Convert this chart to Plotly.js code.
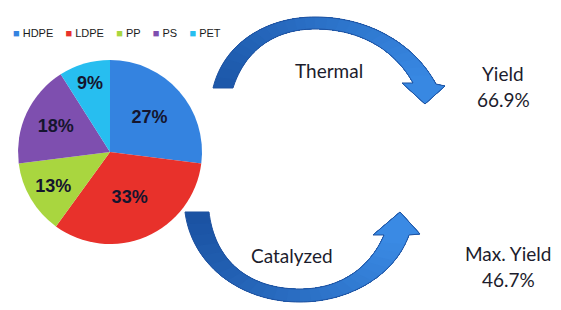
<!DOCTYPE html>
<html><head><meta charset="utf-8">
<script src="https://cdn.plot.ly/plotly-3.0.1.min.js"></script>
<style>html,body{margin:0;padding:0;background:#fff}#chart{width:561px;height:310px}</style>
</head><body><div id="chart"></div>
<script>
// ---- data ----
const categories = ['HDPE', 'LDPE', 'PP', 'PS', 'PET'];
const shares = [27, 33, 13, 18, 9];
const sliceColors = ['#3483E0', '#E8312B', '#A9D63F', '#7E4FAF', '#27BEF0'];
const processes = ['Thermal', 'Catalyzed'];
const yieldLabels = ['Yield', 'Max. Yield'];
const yieldValues = [66.9, 46.7];

// ---- helpers (pixel -> paper) ----
const W = 561, H = 310;
const px = x => x / W;
const py = y => 1 - y / H;
const ptStr = p => px(p[0]).toFixed(5) + ',' + py(p[1]).toFixed(5);

function bez(s, t) {
  const m = 1 - t;
  return [0, 1].map(k => m*m*m*s[0][k] + 3*m*m*t*s[1][k] + 3*m*t*t*s[2][k] + t*t*t*s[3][k]);
}
function edgeAt(segs, u) {
  const n = segs.length;
  const i = Math.min(Math.floor(u * n), n - 1);
  return bez(segs[i], u * n - i);
}
function hexToRgb(h) { return [1, 3, 5].map(i => parseInt(h.substr(i, 2), 16)); }
function mix(c0, c1, f) {
  const a = hexToRgb(c0), b = hexToRgb(c1);
  return 'rgb(' + a.map((v, i) => Math.round(v + (b[i] - v) * f)).join(',') + ')';
}
// curved arrow with a left-to-right gradient, built as stacked path shapes
function arrowShapes(outer, inner, head, c0, c1, lineColor) {
  const FINE = 80, STRIPS = 26, shapes = [];
  const us = [];
  for (let i = 0; i <= FINE; i++) us.push(i / FINE);
  const polyFrom = u0 => {
    const pts = [];
    const sel = us.filter(u => u >= u0);
    if (sel[0] > u0) sel.unshift(u0);
    sel.forEach(u => pts.push(edgeAt(outer, u)));
    head.forEach(p => pts.push(p));
    sel.slice().reverse().forEach(u => pts.push(edgeAt(inner, u)));
    return 'M' + pts.map(ptStr).join(' L') + ' Z';
  };
  for (let k = 0; k < STRIPS; k++) {
    const u0 = k / STRIPS;
    shapes.push({type: 'path', xref: 'paper', yref: 'paper', path: polyFrom(u0),
      fillcolor: mix(c0, c1, k / (STRIPS - 1)), line: {width: 0}});
  }
  shapes.push({type: 'path', xref: 'paper', yref: 'paper', path: polyFrom(0),
    fillcolor: 'rgba(0,0,0,0)', line: {color: lineColor, width: 1}});
  return shapes;
}

const topShapes = arrowShapes(
  [[[213,88],[225,40],[270,17],[315,17]], [[315,17],[370,17],[415,45],[436,84]]],
  [[[233,88],[245,50],[275,29],[315,29]], [[315,29],[360,29],[395,50],[413,83]]],
  [[445,86],[425,104],[402,83]],
  '#1d58aa', '#3888e2', '#1f52a0');
const bottomShapes = arrowShapes(
  [[[185,212],[192,265],[240,302],[300,302]], [[300,302],[350,302],[395,275],[409,235]]],
  [[[209,212],[215,262],[250,289],[300,289]], [[300,289],[340,289],[370,268],[384,235]]],
  [[420,234],[400,212],[373,235]],
  '#1b53a3', '#3a8ae4', '#1f52a0');

const textFont = {family: 'Lato, "Open Sans", sans-serif', size: 19, color: '#1c1c2c'};

const legendText = categories.map((c, i) =>
  '<span style="color:' + sliceColors[i] + '">\u25A0</span>\u00A0' + c).join('\u00A0\u00A0\u00A0\u00A0');

const annotations = [
  {text: legendText, x: px(11), y: py(33), xanchor: 'left', yanchor: 'middle',
   font: {family: '"Liberation Sans", Arial, sans-serif', size: 11, color: '#1a1a1a'}},
  {text: processes[0], x: px(329), y: py(71)},
  {text: processes[1], x: px(292), y: py(255)},
  {text: yieldLabels[0], x: px(503), y: py(73)},
  {text: yieldValues[0].toFixed(1) + '%', x: px(503), y: py(99)},
  {text: yieldLabels[1], x: px(508), y: py(253)},
  {text: yieldValues[1].toFixed(1) + '%', x: px(508), y: py(279)}
].map(a => Object.assign({xref: 'paper', yref: 'paper', showarrow: false,
  xanchor: 'center', yanchor: 'middle', font: textFont}, a));

const data = [{
  type: 'pie',
  labels: categories,
  values: shares,
  sort: false,
  direction: 'clockwise',
  rotation: 0,
  marker: {colors: sliceColors, line: {width: 0}},
  texttemplate: '%{value}%',
  textposition: 'inside',
  insidetextorientation: 'horizontal',
  textfont: {family: '"Liberation Sans", Arial, sans-serif', size: 18, color: '#15152e', weight: 'bold'},
  domain: {x: [px(18), px(202)], y: [py(244), py(60)]},
  showlegend: false,
  hoverinfo: 'label+percent'
}];

const layout = {
  width: W, height: H,
  margin: {l: 0, r: 0, t: 0, b: 0},
  paper_bgcolor: '#ffffff',
  plot_bgcolor: '#ffffff',
  showlegend: false,
  shapes: topShapes.concat(bottomShapes),
  annotations: annotations
};

Plotly.newPlot('chart', data, layout, {displayModeBar: false, staticPlot: true});
</script>
</body></html>
